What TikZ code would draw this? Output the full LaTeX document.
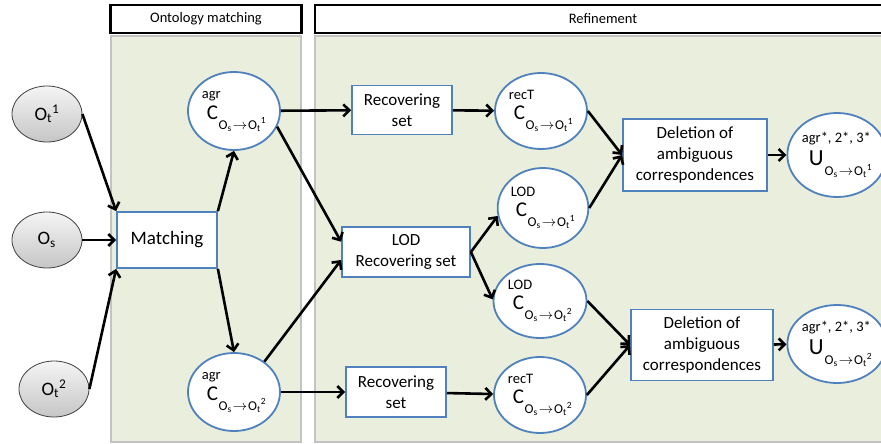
\documentclass[tikz,border=0pt]{standalone}
\usepackage{fontspec}
\setmainfont{Carlito}
\usetikzlibrary{shapes.geometric, arrows.meta}
\definecolor{nodeblue}{HTML}{4F81BD}
\definecolor{panelgreen}{HTML}{EAEEDC}
\definecolor{panelline}{HTML}{C3C3C3}
\newcommand{\ontoname}[2]{O\textsubscript{#1}\textsuperscript{#2}}
\newcommand{\mapidx}[1]{O\textsubscript{s}\kern1pt$\rightarrow$\kern1pt O\textsubscript{t}\textsuperscript{#1}}
\newcommand{\corrset}[2]{%
  \begin{tabular}{@{}l@{}}
    \fontsize{14.5}{14.5}\selectfont #1\\[3pt]
    \hspace{5pt}\fontsize{21}{21}\selectfont C\kern0.5pt\raisebox{-10pt}{\fontsize{13.5}{13.5}\selectfont\mapidx{#2}}
  \end{tabular}}
\newcommand{\unionset}[1]{%
  \begin{tabular}{@{}l@{}}
    \fontsize{14.5}{14.5}\selectfont agr*, 2*, 3*\\[5pt]
    \hspace{7pt}\fontsize{23}{23}\selectfont U\kern1pt\raisebox{-10pt}{\fontsize{13.5}{13.5}\selectfont\mapidx{#1}}
  \end{tabular}}
\tikzset{
    procbox/.style={rectangle, draw=nodeblue, line width=1.8pt, fill=white,
        align=center, inner sep=0pt, font=\fontsize{17}{21}\selectfont},
    setnode/.style={ellipse, draw=nodeblue, line width=1.8pt, fill=white,
        inner sep=0pt},
    ontonode/.style={ellipse, draw=black!75, line width=0.8pt, top color=gray!8,
        bottom color=gray!45, minimum width=70pt, minimum height=56pt,
        inner sep=0pt, font=\fontsize{19}{19}\selectfont}
}
\tikzset{
    header/.style={rectangle, draw=black, line width=2.5pt, fill=white,
        minimum height=28pt, inner sep=0pt, font=\fontsize{14.5}{14.5}\selectfont},
    panel/.style={draw=panelline, line width=1.5pt, fill=panelgreen}
}
\tikzset{
    every edge/.append style={line width=2.6pt, -{Straight Barb[length=6pt,width=12pt]}}
}

\begin{document}
\begin{tikzpicture}[x=1pt, y=-1pt]
  \useasboundingbox (0,0) rectangle (881,444);
  \draw [panel] (111,36) rectangle (301,442);
  \draw [panel] (315,36) rectangle (890,442);
  \node (hdrmatch) [header, minimum width=191pt] at (206,19) {Ontology matching};
  \node (hdrrefine) [header, minimum width=576pt] at (603,19) {Refinement};

  \node (ot1) [ontonode] at (47,114) {\ontoname{t}{1}};
  \node (os) [ontonode] at (47,240) {\ontoname{s}{}};
  \node (ot2) [ontonode] at (54,389) {\ontoname{t}{2}};
  \node (match) [procbox, minimum width=100pt, minimum height=56pt,
    font=\fontsize{19}{21}\selectfont] at (167,240) {Matching};
  \node (agr1) [setnode, minimum width=92pt, minimum height=78pt] at (234,111) {\corrset{agr}{1}};
  \node (agr2) [setnode, minimum width=92pt, minimum height=78pt] at (234,392) {\corrset{agr}{2}};
  \node (rec1) [procbox, minimum width=100pt, minimum height=49pt] at (402,110) {Recovering\\set};
  \node (lod) [procbox, minimum width=128pt, minimum height=50pt] at (406,252) {LOD\\Recovering set};
  \node (rec2) [procbox, minimum width=100pt, minimum height=50pt] at (396,392) {Recovering\\set};
  \node (rect1) [setnode, minimum width=92pt, minimum height=76pt] at (541,111) {\corrset{recT}{1}};
  \node (lod1) [setnode, minimum width=90pt, minimum height=80pt] at (543,208) {\corrset{LOD}{1}};
  \node (lod2) [setnode, minimum width=93pt, minimum height=74pt] at (540,301) {\corrset{LOD}{2}};
  \node (rect2) [setnode, minimum width=92pt, minimum height=76pt] at (540,395) {\corrset{recT}{2}};
  \node (del1) [procbox, minimum width=144pt, minimum height=72pt] at (695,155) {Deletion of\\ambiguous\\correspondences};
  \node (del2) [procbox, minimum width=142pt, minimum height=71pt] at (702,345) {Deletion of\\ambiguous\\correspondences};
  \node (u1) [setnode, minimum width=88pt, minimum height=84pt] at (837,155) {\unionset{1}};
  \node (u2) [setnode, minimum width=88pt, minimum height=78pt] at (837,344) {\unionset{2}};

  \draw (ot1.east) edge (match.north west); \draw (os) edge (match); \draw (ot2.east) edge (match.south west);
  \draw (match.north east) edge (agr1.south); \draw (match.south east) edge (agr2.north);
  \draw (agr1) edge (rec1); \draw (agr1.-20) edge (lod.171);
  \draw (agr2.45) edge (lod.187); \draw (agr2) edge (rec2);
  \draw (rec1) edge (rect1); \draw (rec2) edge (rect2);
  \draw (lod.east) edge (lod1.190); \draw (lod.east) edge (lod2.178);
  \draw (rect1.east) edge (del1.west); \draw (lod1.east) edge (del1.west);
  \draw (lod2.east) edge (del2.west); \draw (rect2.east) edge (del2.west);
  \draw (del1) edge (u1); \draw (del2) edge (u2);
\end{tikzpicture}
\end{document}
